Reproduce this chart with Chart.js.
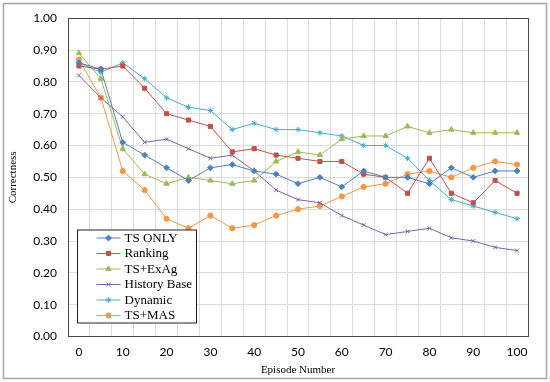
<!DOCTYPE html>
<html>
<head>
<meta charset="utf-8">
<script src="https://cdn.jsdelivr.net/npm/chart.js@4.4.1/dist/chart.umd.min.js"></script>
<style>
  html, body { margin: 0; padding: 0; background: #fff; }
  #wrap { width: 550px; height: 382px; }
</style>
</head>
<body>
<div id="wrap"><canvas id="chart" width="550" height="382"></canvas></div>
<script>
'use strict';

// ── Data ──────────────────────────────────────────────────────
const episodes = ['0','5','10','15','20','25','30','35','40','45','50',
                  '55','60','65','70','75','80','85','90','95','100'];

const tsOnly  = [0.86,0.84,0.61,0.57,0.53,0.49,0.53,0.54,0.52,0.51,0.48,0.50,0.47,0.52,0.50,0.50,0.48,0.53,0.50,0.52,0.52];
const ranking = [0.85,0.84,0.85,0.78,0.70,0.68,0.66,0.58,0.59,0.57,0.56,0.55,0.55,0.51,0.50,0.45,0.56,0.45,0.42,0.49,0.45];
const tsExAg  = [0.89,0.81,0.59,0.51,0.48,0.50,0.49,0.48,0.49,0.55,0.58,0.57,0.62,0.63,0.63,0.66,0.64,0.65,0.64,0.64,0.64];
const history = [0.82,0.75,0.69,0.61,0.62,0.59,0.56,0.57,0.52,0.46,0.43,0.42,0.38,0.35,0.32,0.33,0.34,0.31,0.30,0.28,0.27];
const dynamic = [0.86,0.83,0.86,0.81,0.75,0.72,0.71,0.65,0.67,0.65,0.65,0.64,0.63,0.60,0.60,0.56,0.49,0.43,0.41,0.39,0.37];
const tsMas   = [0.87,0.75,0.52,0.46,0.37,0.34,0.38,0.34,0.35,0.38,0.40,0.41,0.44,0.47,0.48,0.51,0.52,0.50,0.53,0.55,0.54];

// ── Theme ─────────────────────────────────────────────────────
const C = {
  blue:   '#4F81BD',
  red:    '#C0504D',
  green:  '#9BBB59',
  purple: '#8064A2',
  aqua:   '#4BACC6',
  orange: '#F79646',
  grid:   '#dcdcdc',
  frame:  '#4a4a4a',
  outer:  '#a6a6a6',
  text:   '#000000',
  serif:  "'Liberation Serif', 'DejaVu Serif', serif",
  sans:   "Lato, 'Liberation Sans', sans-serif",
};

function series(label, data, color, style, radius) {
  return {
    label, data,
    borderColor: color,
    backgroundColor: color,
    borderWidth: 1,
    pointStyle: style,
    pointRadius: radius,
    pointBorderWidth: 1,
    pointBackgroundColor: color,
    pointBorderColor: color,
    tension: 0,
  };
}

// white page + light outer frame + dark plot frame
const framePlugin = {
  id: 'frames',
  beforeDraw(chart) {
    const { ctx, width, height } = chart;
    ctx.save();
    ctx.fillStyle = '#fff';
    ctx.fillRect(0, 0, width, height);
    ctx.strokeStyle = C.outer;
    ctx.lineWidth = 1.5;
    ctx.strokeRect(3.5, 3.5, width - 7, height - 7);
    ctx.restore();
  },
  afterDraw(chart) {
    const { ctx, chartArea: a } = chart;
    ctx.save();
    ctx.strokeStyle = C.frame;
    ctx.lineWidth = 1;
    ctx.strokeRect(Math.round(a.left) + 0.5, Math.round(a.top) + 0.5,
                   Math.round(a.right - a.left), Math.round(a.bottom - a.top));
    ctx.restore();
  },
};

// legend box inside the plot, bottom-left
const boxLegend = {
  id: 'boxLegend',
  afterDraw(chart) {
    const { ctx, chartArea: a } = chart;
    const bx = a.left + 9.5, bw = 119, rowH = 15.5, bh = 93;
    const by = a.bottom - 13.5 - bh;
    ctx.save();
    ctx.fillStyle = '#fff';
    ctx.fillRect(bx, by, bw, bh);
    ctx.strokeStyle = '#222';
    ctx.lineWidth = 1;
    ctx.strokeRect(bx, by, bw, bh);
    ctx.font = `13px ${C.serif}`;
    ctx.textBaseline = 'middle';
    ctx.textAlign = 'left';
    chart.data.datasets.forEach((ds, i) => {
      const y = by + 8 + rowH * i;
      ctx.strokeStyle = ds.borderColor;
      ctx.lineWidth = 1;
      ctx.beginPath();
      ctx.moveTo(bx + 19, y);
      ctx.lineTo(bx + 43, y);
      ctx.stroke();
      ctx.fillStyle = ds.pointBackgroundColor;
      ctx.strokeStyle = ds.pointBorderColor;
      Chart.helpers.drawPoint(ctx, {
        pointStyle: ds.pointStyle, radius: ds.pointRadius,
        rotation: 0, borderWidth: 1,
      }, bx + 31, y);
      ctx.fillStyle = C.text;
      ctx.fillText(ds.label, bx + 47, y + 0.5);
    });
    ctx.restore();
  },
};

new Chart(document.getElementById('chart'), {
  type: 'line',
  data: {
    labels: episodes,
    datasets: [
      series('TS ONLY',      tsOnly,  C.blue,   'rectRot',  2.9),
      series('Ranking',      ranking, C.red,    'rect',     2.9),
      series('TS+ExAg',      tsExAg,  C.green,  'triangle', 3.1),
      series('History Base', history, C.purple, 'crossRot', 2.8),
      series('Dynamic',      dynamic, C.aqua,   'star',     2.8),
      series('TS+MAS',       tsMas,   C.orange, 'circle',   2.6),
    ],
  },
  options: {
    responsive: false,
    animation: false,
    layout: { padding: { left: 4, right: 22, top: 17, bottom: 4 } },
    plugins: { legend: { display: false }, tooltip: { enabled: false } },
    scales: {
      x: {
        type: 'category',
        offset: true,
        grid: { color: C.grid, offset: true, drawTicks: false, lineWidth: 1 },
        border: { display: false },
        ticks: {
          autoSkip: false, maxRotation: 0, padding: 8,
          color: C.text,
          font: { family: C.sans, size: 12 },
          callback: (v, i) => (i % 2 === 0 ? episodes[i] : ''),
        },
        title: {
          display: true, text: 'Episode Number', color: C.text,
          font: { family: C.serif, size: 11 },
          padding: { top: 0, bottom: 1 },
        },
        afterFit: s => { s.height = 41.5; },
      },
      y: {
        min: 0, max: 1,
        grid: { color: C.grid, drawTicks: false, lineWidth: 1 },
        border: { display: false },
        ticks: {
          stepSize: 0.05, padding: 11,
          color: C.text,
          font: { family: C.sans, size: 12 },
          callback: v => (Math.round(v * 100) % 10 === 0 ? v.toFixed(2) : ''),
        },
        title: {
          display: true, text: 'Correctness', color: C.text,
          font: { family: C.serif, size: 11 },
          padding: { top: 3, bottom: 0 },
        },
        afterFit: s => { s.width = 64; },
      },
    },
  },
  plugins: [framePlugin, boxLegend],
});
</script>
</body>
</html>
